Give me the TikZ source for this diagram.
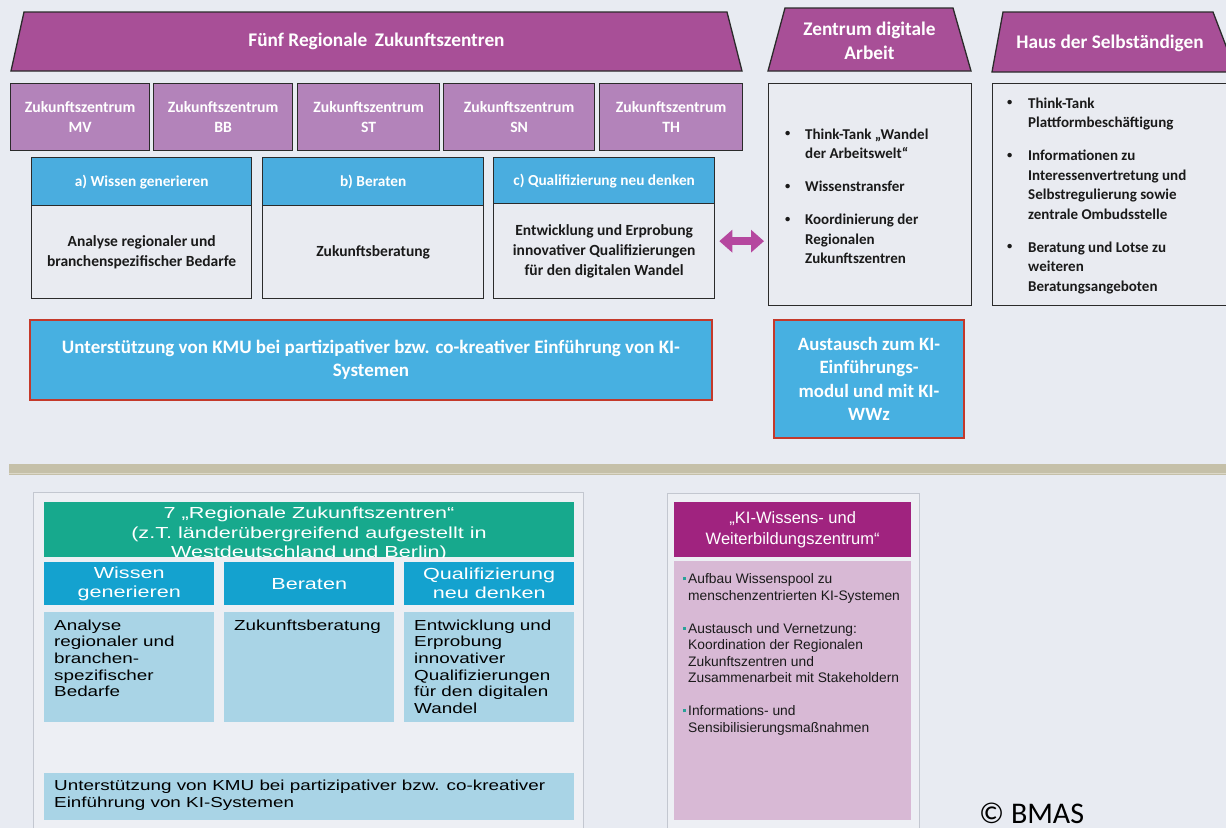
\documentclass[tikz,border=0pt]{standalone}
\usepackage{fontspec}
\usepackage{graphicx}
\usepackage{array}
\setmainfont{Carlito}
\newfontfamily\arialW[FakeStretch=1.3]{Liberation Sans}
\newfontfamily\arialH[FakeStretch=1.35]{Liberation Sans}
\newfontfamily\arialN{Liberation Sans}
\usetikzlibrary{arrows.meta,calc}
\definecolor{bg}{HTML}{E8EBF2}
\definecolor{trap}{HTML}{A84F97}
\definecolor{zz}{HTML}{B383BA}
\definecolor{bhead}{HTML}{4AADDF}
\definecolor{bbody}{HTML}{E9EBF1}
\definecolor{bord}{HTML}{2B2B2B}
\definecolor{bbox}{HTML}{47B0E1}
\definecolor{rbord}{HTML}{C4392B}
\definecolor{arr}{HTML}{B5479F}
\definecolor{sep}{HTML}{C5C0A9}
\definecolor{sepl}{HTML}{DCD8C8}
\definecolor{frbg}{HTML}{EDEFF4}
\definecolor{frbord}{HTML}{C3C7D0}
\definecolor{green7}{HTML}{17A98D}
\definecolor{cyanh}{HTML}{14A2CF}
\definecolor{lblue}{HTML}{A9D4E6}
\definecolor{kipur}{HTML}{A0237F}
\definecolor{kipink}{HTML}{D8B9D5}
\definecolor{kiteal}{HTML}{2AA198}
\definecolor{txt}{HTML}{1A1A1A}
\newcommand\fsz[2]{\fontsize{#1bp}{#2bp}\selectfont}
\newcommand\smallbul{\raisebox{2.5bp}{\scalebox{0.7}{•}}}
\newcommand\kbulmark{\raisebox{3.5bp}{\color{kiteal}\rule{3bp}{3bp}}}
\renewcommand\arraystretch{1}
\tikzset{
  trapfill/.style={fill=trap, draw=bord, line width=1.3bp},
  traptext/.style={text=white, font=\bfseries\fsz{19.3}{24}, align=center, inner sep=0},
  zbox/.style={fill=zz, draw=bord, line width=1.3bp, text=white, font=\bfseries\fsz{15.7}{20}, align=center, anchor=north west, inner sep=0},
  chead/.style={fill=bhead, draw=bord, line width=1.3bp, text=white, font=\bfseries\fsz{15.3}{19}, align=center, anchor=north west, inner sep=0},
  cbody/.style={fill=bbody, draw=bord, line width=1.3bp, text=txt, font=\bfseries\fsz{15.5}{20}, align=center, anchor=north west, inner sep=0},
  rbox/.style={fill=bbody, draw=bord, line width=1.3bp, anchor=north west, inner sep=0},
  listtext/.style={text=txt, font=\bfseries\fsz{15}{19.5}, anchor=west, inner sep=0},
  kbox/.style={fill=bbox, draw=rbord, line width=2bp, text=white, anchor=north west, inner sep=0, align=center},
  gbox/.style={fill=green7, anchor=north west, inner sep=0},
  gtext/.style={text=white, font=\arialH\fsz{16}{19.5}, align=center, inner sep=0},
  chbox/.style={fill=cyanh, text=white, font=\arialH\fsz{16}{19}, align=center, anchor=north west, inner sep=0},
  lbbox/.style={fill=lblue, anchor=north west, inner sep=0},
  lbtext/.style={text=black, font=\arialW\fsz{14.5}{16.6}, align=left, anchor=north west, inner sep=0},
  frame/.style={fill=frbg, draw=frbord, line width=1bp},
  dblarrow/.style={draw=arr, line width=8bp, {Triangle[width=22bp,length=13bp]}-{Triangle[width=22bp,length=13bp]}}
}
\begin{document}
\begin{tikzpicture}[x=1bp,y=-1bp]
\useasboundingbox[fill=bg] (0,0) rectangle (1226,828);

% ---------- top left: Fuenf Regionale Zukunftszentren
\path[trapfill] (24,12) -- (727,12) -- (742,71) -- (11,71) -- cycle;
\node[traptext] (fuenf) at (376.5,41.5) {Fünf Regionale \,Zukunftszentren};

\node[zbox, minimum width=139bp, minimum height=67bp] (mv) at (10,83) {Zukunftszentrum\\MV};
\node[zbox, minimum width=139bp, minimum height=67bp] (bb) at (153,83) {Zukunftszentrum\\BB};
\node[zbox, minimum width=142bp, minimum height=67bp] (st) at (297,83) {Zukunftszentrum\\ST};
\node[zbox, minimum width=151bp, minimum height=67bp] (sn) at (443,83) {Zukunftszentrum\\SN};
\node[zbox, minimum width=143bp, minimum height=67bp] (th) at (599,83) {Zukunftszentrum\\TH};

\node[chead, minimum width=220bp, minimum height=48bp] (ahead) at (31,157) {a) Wissen generieren};
\node[cbody, minimum width=220bp, minimum height=93bp] (abody) at (31,205) {Analyse regionaler und\\branchenspezifischer Bedarfe};
\node[chead, minimum width=221bp, minimum height=48bp] (bhead) at (262,157) {b) Beraten};
\node[cbody, minimum width=221bp, minimum height=93bp] (bbody) at (262,205) {Zukunftsberatung};
\node[chead, minimum width=221bp, minimum height=46bp] (chead) at (493,157) {c) Qualifizierung neu denken};
\node[cbody, minimum width=221bp, minimum height=95bp] (cbody) at (493,203) {Entwicklung und Erprobung\\innovativer Qualifizierungen\\für den digitalen Wandel};

% ---------- Zentrum digitale Arbeit
\path[trapfill] (785,8) -- (953,8) -- (971,71) -- (768,71) -- cycle;
\node[traptext] (zdatitle) at (869.5,41) {Zentrum digitale\\Arbeit};
\node[rbox, minimum width=203bp, minimum height=222bp] (zda) at (768,83) {};
\node[listtext] (zdalist) at (785,197.5) {%
\begin{tabular}{@{}p{20bp}@{}l@{}}
\smallbul & Think-Tank „Wandel\\
 & der Arbeitswelt“\\[13.5bp]
\smallbul & Wissenstransfer\\[13.5bp]
\smallbul & Koordinierung der\\
 & Regionalen\\
 & Zukunftszentren
\end{tabular}};

% ---------- Haus der Selbstaendigen
\path[trapfill] (1003,12) -- (1213,12) -- (1236,72) -- (992,72) -- cycle;
\node[traptext] (haustitle) at (1110,43) {Haus der Selbständigen};
\node[rbox, minimum width=240bp, minimum height=222bp] (haus) at (992,83) {};
\node[listtext] (hauslist) at (1007,196) {%
\begin{tabular}{@{}p{21bp}@{}l@{}}
\smallbul & Think-Tank\\
 & Plattformbeschäftigung\\[13.5bp]
\smallbul & Informationen zu\\
 & Interessenvertretung und\\
 & Selbstregulierung sowie\\
 & zentrale Ombudsstelle\\[13.5bp]
\smallbul & Beratung und Lotse zu\\
 & weiteren\\
 & Beratungsangeboten
\end{tabular}};

% ---------- arrow
\coordinate (aL) at ($(cbody.east)+(4,-10)$);
\coordinate (aR) at ($(zda.west |- aL)+(-4,0)$);
\draw[dblarrow] (aL) -- (aR);

% ---------- blue boxes
\node[kbox, minimum width=682bp, minimum height=80bp, font=\bfseries\fsz{19}{23}] (kmu) at (29,319)
  {Unterstützung von KMU bei partizipativer bzw. co-kreativer Einführung von KI-\\Systemen};
\node[kbox, minimum width=190bp, minimum height=118bp, font=\bfseries\fsz{18.8}{23.5}] (austausch) at (773,319)
  {Austausch zum KI-\\Einführungs-\\modul und mit KI-\\WWz};

% ---------- separator
\fill[sep] (9,464) rectangle (1226,475);
\draw[sepl, line width=1bp] (9,473) -- (1226,473);

% ---------- bottom left picture
\path[frame] (33,492) rectangle (583,840);
\node[gbox, minimum width=530bp, minimum height=55bp] (g7) at (44,502) {};
\begin{scope}
\clip (g7.north west) rectangle (g7.south east);
\node[gtext] (g7t) at (309,534)
  {7 „Regionale Zukunftszentren“\\(z.T. länderübergreifend aufgestellt in\\Westdeutschland und Berlin)};
\end{scope}
\node[chbox, minimum width=170bp, minimum height=43bp] (wg) at (44,562) {Wissen\\generieren};
\node[chbox, minimum width=170bp, minimum height=43bp] (ber) at (224,562) {Beraten};
\node[chbox, minimum width=170bp, minimum height=43bp] (qnd) at (404,562) {Qualifizierung\\neu denken};
\node[lbbox, minimum width=170bp, minimum height=110bp] (l1) at (44,612) {};
\node[lbbox, minimum width=170bp, minimum height=110bp] (l2) at (224,612) {};
\node[lbbox, minimum width=170bp, minimum height=110bp] (l3) at (404,612) {};
\node[lbtext] (l1t) at (54,619.5) {Analyse\\regionaler und\\branchen-\\spezifischer\\Bedarfe};
\node[lbtext] (l2t) at (234,619.5) {Zukunftsberatung};
\node[lbtext] (l3t) at (414,619.5) {Entwicklung und\\Erprobung\\innovativer\\Qualifizierungen\\für den digitalen\\Wandel};
\node[lbbox, minimum width=530bp, minimum height=47bp] (lb) at (44,773) {};
\node[lbtext] (lbt) at (54,780) {Unterstützung von KMU bei partizipativer bzw. co-kreativer\\Einführung von KI-Systemen};

% ---------- bottom right picture
\path[frame] (667,493) rectangle (919,840);
\node[fill=kipur, text=white, font=\arialN\fsz{16.5}{21}, align=center, anchor=north west, inner sep=0,
  minimum width=237bp, minimum height=55bp] (kititle) at (674,502)
  {„KI-Wissens- und\\Weiterbildungszentrum“};
\node[fill=kipink, anchor=north west, inner sep=0, minimum width=237bp, minimum height=259bp] (kibody) at (674,561) {};
\node[text=txt, font=\arialN\fsz{13.8}{16.5}, anchor=north west, inner sep=0] (kilist) at (683,572) {%
\begin{tabular}{@{}p{5bp}@{}l@{}}
\kbulmark & Aufbau Wissenspool zu\\
 & menschenzentrierten KI-Systemen\\[16.5bp]
\kbulmark & Austausch und Vernetzung:\\
 & Koordination der Regionalen\\
 & Zukunftszentren und\\
 & Zusammenarbeit mit Stakeholdern\\[16.5bp]
\kbulmark & Informations- und\\
 & Sensibilisierungsmaßnahmen
\end{tabular}};

% ---------- copyright
\node[font=\fsz{30}{36}, text=black, anchor=base west, inner sep=0] (copy) at (979,823) {© BMAS};
\end{tikzpicture}
\end{document}
